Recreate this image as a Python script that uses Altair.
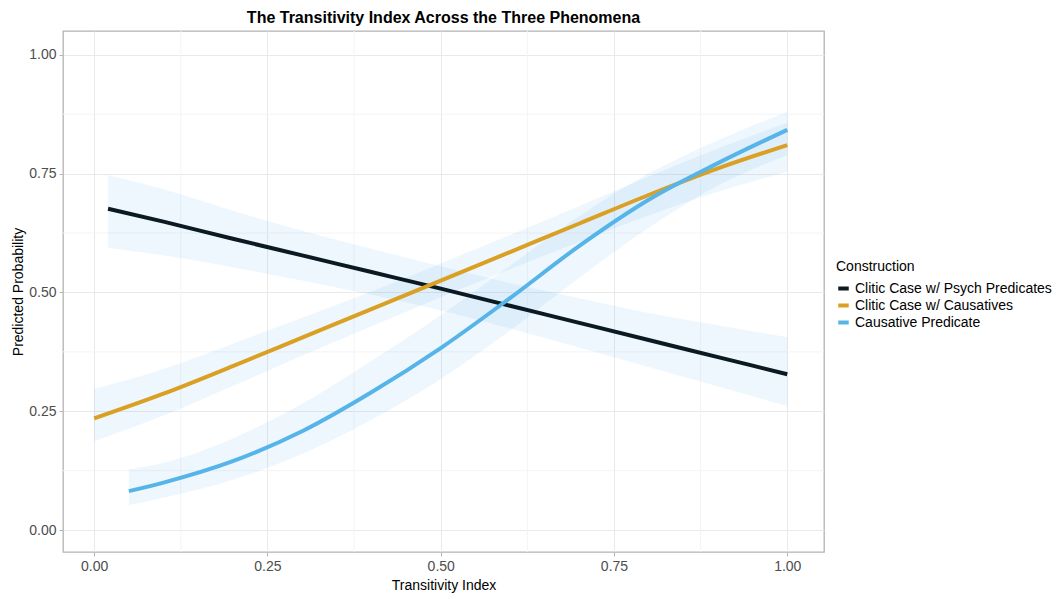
import altair as alt
import pandas as pd

# ---- data ----
series_names = ["Clitic Case w/ Psych Predicates", "Clitic Case w/ Causatives", "Causative Predicate"]
series_colors = ["#0B1A22", "#D9A024", "#56B4E9"]

psych_x = [0.02, 0.1, 0.2, 0.3, 0.4, 0.5, 0.6, 0.7, 0.8, 0.9, 1.0]
psych_y = [0.676, 0.649, 0.613, 0.578, 0.543, 0.508, 0.472, 0.436, 0.400, 0.364, 0.328]
psych_lo = [0.594, 0.578, 0.553, 0.525, 0.495, 0.462, 0.424, 0.384, 0.343, 0.302, 0.261]
psych_hi = [0.747, 0.717, 0.672, 0.630, 0.592, 0.555, 0.520, 0.488, 0.457, 0.431, 0.406]

caus_x = [0.0, 0.1, 0.2, 0.3, 0.4, 0.5, 0.6, 0.7, 0.8, 0.9, 1.0]
caus_y = [0.235, 0.287, 0.345, 0.405, 0.465, 0.525, 0.585, 0.645, 0.705, 0.761, 0.810]
caus_lo = [0.187, 0.241, 0.303, 0.367, 0.429, 0.490, 0.549, 0.606, 0.662, 0.712, 0.754]
caus_hi = [0.297, 0.339, 0.392, 0.447, 0.502, 0.561, 0.621, 0.682, 0.744, 0.803, 0.857]

pred_x = [0.05, 0.1, 0.2, 0.3, 0.4, 0.5, 0.6, 0.7, 0.8, 0.9, 1.0]
pred_y = [0.082, 0.100, 0.145, 0.208, 0.290, 0.383, 0.488, 0.598, 0.695, 0.772, 0.842]
pred_lo = [0.053, 0.068, 0.106, 0.160, 0.232, 0.318, 0.420, 0.531, 0.636, 0.725, 0.789]
pred_hi = [0.128, 0.142, 0.193, 0.266, 0.356, 0.452, 0.556, 0.661, 0.750, 0.820, 0.880]

x_ticks = [0.0, 0.25, 0.5, 0.75, 1.0]
y_ticks = [0.0, 0.25, 0.5, 0.75, 1.0]
x_minor = [0.125, 0.375, 0.625, 0.875]
y_minor = [0.125, 0.375, 0.625, 0.875]

rows = []
for name, xs, ys, lo, hi in [
    (series_names[0], psych_x, psych_y, psych_lo, psych_hi),
    (series_names[1], caus_x, caus_y, caus_lo, caus_hi),
    (series_names[2], pred_x, pred_y, pred_lo, pred_hi),
]:
    for i in range(len(xs)):
        rows.append({"series": name, "x": xs[i], "y": ys[i], "lo": lo[i], "hi": hi[i]})
df = pd.DataFrame(rows)

xscale = alt.Scale(domain=[-0.045, 1.053], nice=False, zero=False)
yscale = alt.Scale(domain=[-0.046, 1.05], nice=False, zero=False)

FONT = "Liberation Sans"

xaxis = alt.Axis(values=x_ticks, format=".2f", title="Transitivity Index",
                 grid=True, gridColor="#e9e9e9", gridWidth=1,
                 domain=False, tickColor="#b3b3b3", tickSize=4,
                 labelColor="#4d4d4d", labelFontSize=14, labelFont=FONT, labelPadding=3,
                 titleFont=FONT, titleFontSize=14, titleFontWeight="normal", titleColor="#000000",
                 titlePadding=5)
yaxis = alt.Axis(values=y_ticks, format=".2f", title="Predicted Probability",
                 grid=True, gridColor="#e9e9e9", gridWidth=1,
                 domain=False, tickColor="#b3b3b3", tickSize=4,
                 labelColor="#4d4d4d", labelFontSize=14, labelFont=FONT, labelPadding=3,
                 titleFont=FONT, titleFontSize=14, titleFontWeight="normal", titleColor="#000000",
                 titlePadding=3)

minor_x = alt.Chart(pd.DataFrame({"v": x_minor})).mark_rule(color="#f4f4f4", strokeWidth=1).encode(
    x=alt.X("v:Q", scale=xscale, axis=xaxis))
minor_y = alt.Chart(pd.DataFrame({"v": y_minor})).mark_rule(color="#f4f4f4", strokeWidth=1).encode(
    y=alt.Y("v:Q", scale=yscale, axis=yaxis))

base = alt.Chart(df)

ribbons = base.mark_area(fill="#56B4E9", fillOpacity=0.1, strokeWidth=0, interpolate="monotone").encode(
    x=alt.X("x:Q", scale=xscale, axis=xaxis),
    y=alt.Y("lo:Q", scale=yscale, axis=yaxis),
    y2=alt.Y2("hi:Q"),
    detail=alt.Detail("series:N"),
)

lines = base.mark_line(strokeWidth=4, interpolate="monotone").encode(
    x=alt.X("x:Q", scale=xscale, axis=xaxis),
    y=alt.Y("y:Q", scale=yscale, axis=yaxis),
    color=alt.Color("series:N", sort=series_names,
                    scale=alt.Scale(domain=series_names, range=series_colors),
                    legend=alt.Legend(title="Construction", orient="none", legendX=773, legendY=229,
                                      symbolType="stroke", symbolStrokeWidth=4, symbolSize=110,
                                      labelFont=FONT, labelFontSize=14, labelColor="#000000",
                                      titleFont=FONT, titleFontSize=14, titleFontWeight="normal",
                                      titleColor="#000000", titlePadding=7, rowPadding=0,
                                      labelOffset=4, labelLimit=400)),
)

chart = alt.layer(minor_x, minor_y, ribbons, lines).properties(
    width=761, height=521,
    title=alt.TitleParams("The Transitivity Index Across the Three Phenomena",
                          font=FONT, fontSize=16, fontWeight="bold", color="#000000",
                          anchor="middle", offset=5),
    autosize=alt.AutoSizeParams(type="none"),
    padding={"left": 55, "top": 23, "right": 229, "bottom": 41},
).configure_view(stroke="#b3b3b3", strokeWidth=1.3)

chart.save("out.html", embed_options={"renderer": "svg", "actions": False})
